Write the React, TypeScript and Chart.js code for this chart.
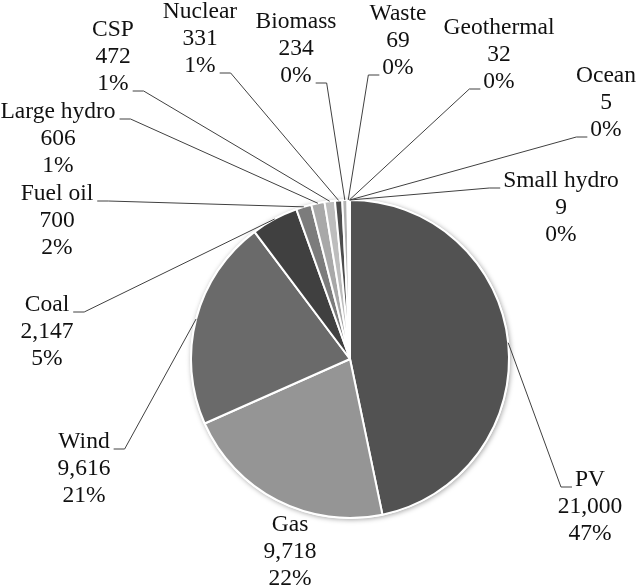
import React, { useEffect, useRef } from 'react';
import { Chart, registerables } from 'chart.js';

Chart.register(...registerables);

const categories = ['PV', 'Gas', 'Wind', 'Coal', 'Fuel oil', 'Large hydro', 'CSP', 'Nuclear', 'Biomass', 'Waste', 'Geothermal', 'Ocean', 'Small hydro'];
const capacities = [21000, 9718, 9616, 2147, 700, 606, 472, 331, 234, 69, 32, 5, 9];
const shareLabels = ['47%', '22%', '21%', '5%', '2%', '1%', '1%', '1%', '0%', '0%', '0%', '0%', '0%'];
const sliceColors = ['#525252', '#959595', '#6a6a6a', '#404040', '#7c7c7c', '#a8a8a8', '#bdbdbd', '#4d4d4d', '#b3b3b3', '#8a8a8a', '#d2d2d2', '#c2c2c2', '#9c9c9c'];

// label layout: center x, first-line center y, side the leader enters from, line it attaches to
const labelLayout = [
  { x: 590, y: 480, side: 'left', line: 0 },
  { x: 290, y: 525, side: 'none', line: 0 },
  { x: 84, y: 442, side: 'right', line: 0 },
  { x: 47, y: 305, side: 'right', line: 0 },
  { x: 57, y: 194, side: 'right', line: 0 },
  { x: 58, y: 112, side: 'right', line: 0 },
  { x: 113, y: 30, side: 'right', line: 2 },
  { x: 200, y: 12, side: 'right', line: 2 },
  { x: 296, y: 22, side: 'right', line: 2 },
  { x: 398, y: 14, side: 'left', line: 2 },
  { x: 499, y: 28, side: 'left', line: 2 },
  { x: 606, y: 76, side: 'left', line: 2 },
  { x: 561, y: 181, side: 'left', line: 0 },
];

const FONT = '23.5px "Liberation Serif", "Times New Roman", serif';
const LINE_H = 27;

const shadowPlugin = {
  id: 'pieShadow',
  beforeDatasetsDraw(chart: any) {
    const meta = chart.getDatasetMeta(0);
    const arc = meta.data[0];
    if (!arc) return;
    const { x, y, outerRadius } = arc.getProps(['x', 'y', 'outerRadius'], true);
    const ctx = chart.ctx;
    ctx.save();
    ctx.beginPath();
    ctx.arc(x, y, outerRadius + 1, 0, Math.PI * 2);
    ctx.fillStyle = '#ffffff';
    ctx.shadowColor = 'rgba(0,0,0,0.35)';
    ctx.shadowBlur = 5;
    ctx.shadowOffsetX = 1;
    ctx.shadowOffsetY = 1;
    ctx.fill();
    ctx.restore();
  },
};

const labelPlugin = {
  id: 'sliceLabels',
  afterDatasetsDraw(chart: any) {
    const ctx = chart.ctx;
    const meta = chart.getDatasetMeta(0);
    ctx.save();
    ctx.font = FONT;
    ctx.textAlign = 'center';
    ctx.textBaseline = 'middle';
    meta.data.forEach((arc: any, i: number) => {
      const { x, y, startAngle, endAngle, outerRadius } = arc.getProps(['x', 'y', 'startAngle', 'endAngle', 'outerRadius'], true);
      const mid = (startAngle + endAngle) / 2;
      const px = x + Math.cos(mid) * outerRadius;
      const py = y + Math.sin(mid) * outerRadius;
      const lay = labelLayout[i];
      const lines = [categories[i], capacities[i].toLocaleString('en-US'), shareLabels[i]];
      lines.forEach((t, k) => {
        ctx.fillStyle = '#111111';
        ctx.fillText(t, lay.x, lay.y + k * LINE_H);
      });
      if (lay.side === 'none') return;
      const txt = lines[lay.line];
      const w = ctx.measureText(txt).width;
      const ay = lay.y + lay.line * LINE_H + 7;
      let x0: number, x1: number;
      if (lay.side === 'right') {
        x0 = lay.x + w / 2 + 4;
        x1 = x0 + 11;
      } else {
        x0 = lay.x - w / 2 - 3;
        x1 = x0 - 11;
      }
      ctx.beginPath();
      ctx.strokeStyle = '#404040';
      ctx.lineWidth = 1;
      ctx.moveTo(x0, ay);
      ctx.lineTo(x1, ay);
      ctx.lineTo(px, py);
      ctx.stroke();
    });
    ctx.restore();
  },
};

export default function App() {
  const ref = useRef<HTMLCanvasElement>(null);
  useEffect(() => {
    if (!ref.current) return;
    const chart = new Chart(ref.current, {
      type: 'pie',
      data: {
        labels: categories,
        datasets: [
          {
            data: capacities,
            backgroundColor: sliceColors,
            borderColor: '#ffffff',
            borderWidth: 2,
          },
        ],
      },
      options: {
        responsive: false,
        animation: false,
        layout: { padding: { left: 190, top: 199, right: 126, bottom: 69 } },
        plugins: {
          legend: { display: false },
          tooltip: { enabled: false },
          title: { display: false },
        },
      },
      plugins: [shadowPlugin, labelPlugin],
    });
    return () => chart.destroy();
  }, []);
  return (
    <div style={{ position: 'fixed', left: 0, top: 0, width: 636, height: 588, background: '#ffffff' }}>
      <canvas ref={ref} width={636} height={588} />
    </div>
  );
}
